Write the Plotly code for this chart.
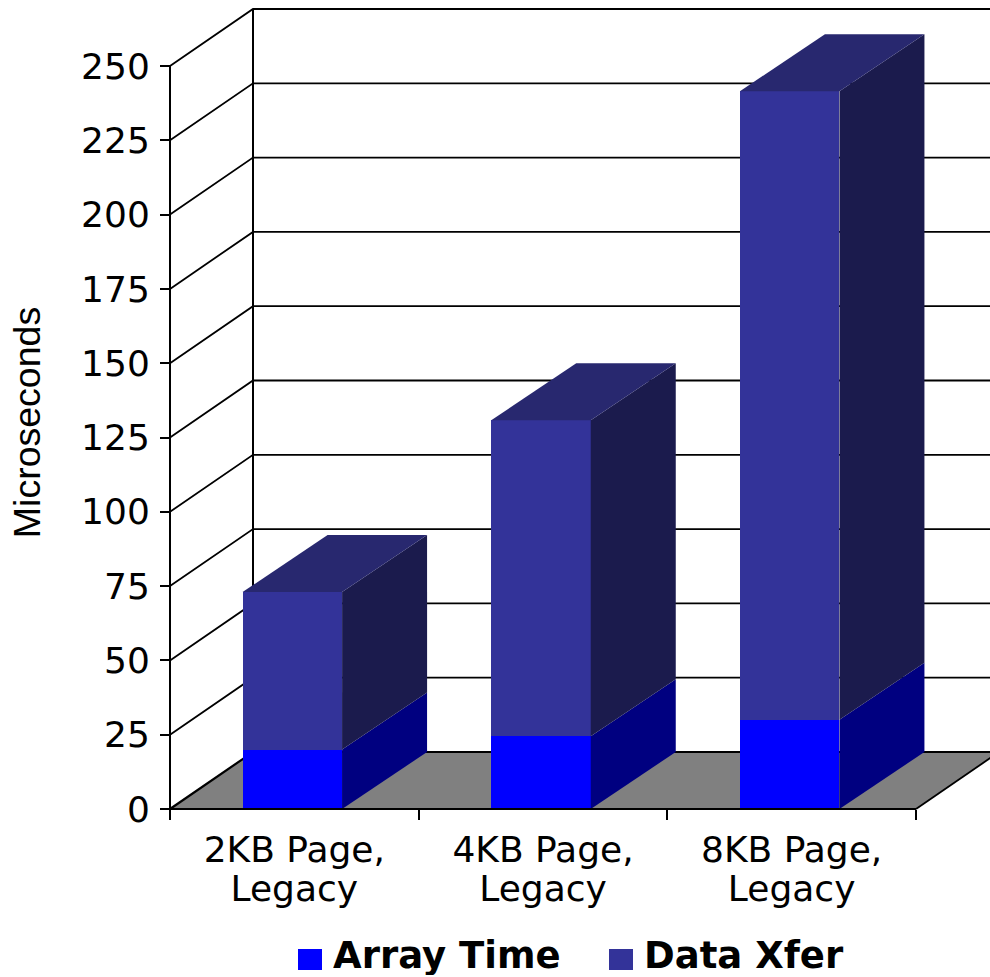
import plotly.graph_objects as go

# Chart data
page_sizes = ["2KB Page,", "4KB Page,", "8KB Page,"]
page_kinds = ["Legacy", "Legacy", "Legacy"]
array_time = [20, 24.5, 30]
data_xfer = [53, 106.3, 211.5]
value_ticks = [0, 25, 50, 75, 100, 125, 150, 175, 200, 225, 250]

# Page and axis layout (pixels)
W, H = 990, 977
AXIS_LEFT, AXIS_RIGHT, AXIS_BOTTOM, AXIS_TOP = 170, 916, 809, 66
VALUE_AREA_BOTTOM = 845
N = len(page_sizes)
px_per_cat = (AXIS_RIGHT - AXIS_LEFT) / N
px_per_val = (AXIS_BOTTOM - AXIS_TOP) / 250

x_range = [-AXIS_LEFT / px_per_cat, (W - AXIS_LEFT) / px_per_cat]
y_range = [-(VALUE_AREA_BOTTOM - AXIS_BOTTOM) / px_per_val, AXIS_BOTTOM / px_per_val]

# Oblique projection offsets for the box depth
depth_x = 83 / px_per_cat
depth_y = 57 / px_per_val
bar_depth_x = 85 / px_per_cat
bar_width = 99.5 / px_per_cat
bar_shift = -0.008

FRONT = {"array": "#0000FF", "data": "#333399"}
SIDE = {"array": "#000080", "data": "#1B1B4D"}
TOP = "#28286F"
INK = "#000000"
TEXT_FONT = "DejaVu Sans"

fig = go.Figure()
centres = [i + 0.5 + bar_shift for i in range(N)]
label_positions = [i + 0.5 for i in range(N)]

fig.add_bar(x=centres, y=array_time, width=bar_width, name="Array Time",
            marker=dict(color=FRONT["array"], line_width=0))
fig.add_bar(x=centres, y=data_xfer, width=bar_width, name="Data Xfer",
            marker=dict(color=FRONT["data"], line_width=0))


def face(xs, ys, color):
    fig.add_scatter(x=xs, y=ys, mode="lines", fill="toself", fillcolor=color,
                    line=dict(width=0, color=color), hoverinfo="skip",
                    showlegend=False)


# Side and top faces of every stacked box
for c, a, d in zip(centres, array_time, data_xfer):
    r = c + bar_width / 2
    l = c - bar_width / 2
    total = a + d
    face([r, r + bar_depth_x, r + bar_depth_x, r], [0, depth_y, a + depth_y, a], SIDE["array"])
    face([r, r + bar_depth_x, r + bar_depth_x, r], [a, a + depth_y, total + depth_y, total], SIDE["data"])
    face([l, l + bar_depth_x, r + bar_depth_x, r], [total, total + depth_y, total + depth_y, total], TOP)

# Empty trace that brings the second category axis into the plot
fig.add_scatter(x=label_positions, y=[0] * N, xaxis="x2", mode="none",
                hoverinfo="skip", showlegend=False)

shapes = []
# Floor of the box
shapes.append(dict(type="path", layer="below", fillcolor="#808080",
                   line=dict(width=0),
                   path=f"M0,0 L{depth_x},{depth_y} L{N + depth_x},{depth_y} L{N},0 Z"))
# Gridlines running along the side wall and the back wall
for v in value_ticks:
    width = 2.2 if v == 0 else 1.8
    shapes.append(dict(type="path", layer="below", line=dict(color=INK, width=width),
                       path=f"M0,{v} L{depth_x},{v + depth_y} L{x_range[1] + 1},{v + depth_y}"))
# Floor's front-right edge
shapes.append(dict(type="line", layer="below", x0=N, y0=0, x1=N + depth_x, y1=depth_y,
                   line=dict(color=INK, width=1.8)))
# Back wall corner
shapes.append(dict(type="line", layer="below", x0=depth_x, y0=depth_y, x1=depth_x,
                   y1=250 + depth_y, line=dict(color=INK, width=2)))
# Axis lines
shapes.append(dict(type="line", x0=0, y0=0, x1=0, y1=250, line=dict(color=INK, width=2)))
shapes.append(dict(type="line", x0=0, y0=0, x1=N, y1=0, line=dict(color=INK, width=2)))

# Legend drawn at full size
LEGEND_SWATCH = 24
legend_items = [("Array Time", FRONT["array"], 298), ("Data Xfer", FRONT["data"], 609)]
annotations = []
for label, color, left in legend_items:
    shapes.append(dict(type="rect", xref="paper", yref="paper", line_width=0, fillcolor=color,
                       x0=left / W, x1=(left + LEGEND_SWATCH) / W,
                       y0=1 - 970 / H, y1=1 - 949 / H))
    annotations.append(dict(xref="paper", yref="paper", x=(left + 33) / W, y=1 - 955 / H,
                            xanchor="left", yanchor="middle", showarrow=False, height=40,
                            valign="middle", text=f"<b>{label}</b>",
                            font=dict(family=TEXT_FONT, size=37, color=INK)))

category_axis = dict(range=x_range, anchor="free", position=1 - AXIS_BOTTOM / H, showgrid=False,
                     zeroline=False, showline=False, tickmode="array", tickvals=label_positions,
                     ticks="", tickfont=dict(size=36))

fig.update_layout(
    width=W, height=H, margin=dict(l=0, r=0, t=0, b=0),
    barmode="stack", showlegend=False, plot_bgcolor="rgba(0,0,0,0)", paper_bgcolor="white",
    font=dict(family=TEXT_FONT, size=36, color=INK),
    shapes=shapes, annotations=annotations,
    xaxis=dict(**category_axis, ticktext=page_sizes, ticklabelstandoff=16,
               minor=dict(tickmode="array", tickvals=list(range(N + 1)), ticks="outside",
                          ticklen=10, tickwidth=2, tickcolor=INK, showgrid=False)),
    xaxis2=dict(**category_axis, ticktext=page_kinds, ticklabelstandoff=55, overlaying="x"),
    yaxis=dict(range=y_range, domain=[1 - VALUE_AREA_BOTTOM / H, 1], anchor="free",
               position=AXIS_LEFT / W, showgrid=False, zeroline=False, showline=False,
               tickmode="array", tickvals=value_ticks, ticks="outside", ticklen=10,
               tickwidth=2, tickcolor=INK, tickfont=dict(size=36), ticklabelstandoff=3,
               title=dict(text="Microseconds", standoff=27,
                          font=dict(family="Liberation Sans", size=37.5))),
)

fig.write_html("out.html", config=dict(displayModeBar=False))
